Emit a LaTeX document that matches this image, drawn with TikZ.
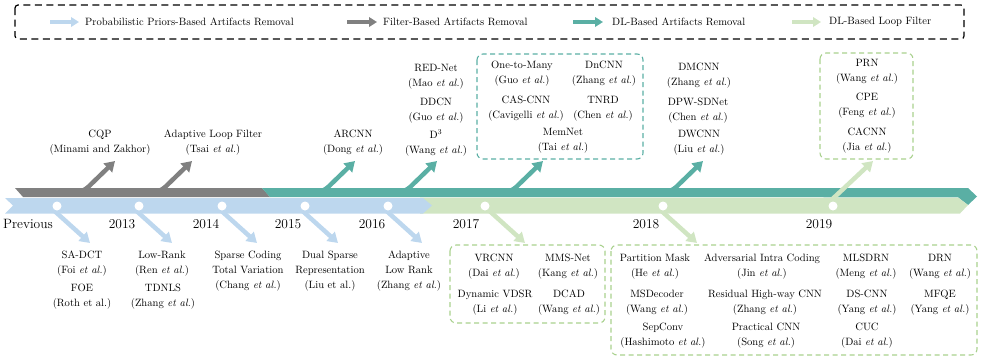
\documentclass[tikz,border=0pt]{standalone}
\usetikzlibrary{arrows.meta,calc}
\definecolor{priorblue}{RGB}{189,215,238}
\definecolor{filtergrey}{RGB}{128,128,128}
\definecolor{dlteal}{RGB}{90,175,164}
\definecolor{loopgreen}{RGB}{208,229,194}
\definecolor{loopdash}{RGB}{169,209,142}
\newcommand{\etal}{\textit{et al.}}

\begin{document}
\begin{tikzpicture}[x=1pt, y=-1pt,
  item/.style={align=center, inner sep=0pt, font=\fontsize{10.6}{15}\selectfont},
  year/.style={inner sep=0pt, font=\fontsize{13.5}{16}\selectfont},
  legtext/.style={anchor=west, inner sep=0pt, font=\fontsize{10.6}{15}\selectfont},
  legarrow/.style={line width=4.5pt, -{Triangle[length=8pt,width=9.5pt]}},
  twig/.style={line width=4.5pt, rounded corners=7pt, -{Triangle[length=10pt,width=12pt]}},
  dot/.style={circle, fill=white, minimum size=9pt, inner sep=0pt},
  groupbox/.style={draw, line width=1.1pt, dash pattern=on 5pt off 3.5pt, rounded corners=6pt}
]
\useasboundingbox (0,0) rectangle (981,360);

% legend
\draw[line width=1.2pt, dash pattern=on 7pt off 4.5pt, rounded corners=3pt] (15,5) rectangle (964,39);
\node[legtext] (lgprior) at (85,22) {Probabilistic Priors-Based Artifacts Removal};
\node[legtext] (lgfilter) at (383,22) {Filter-Based Artifacts Removal};
\node[legtext] (lgdl) at (612,22) {DL-Based Artifacts Removal};
\node[legtext] (lgloop) at (829,22) {DL-Based Loop Filter};
\draw[legarrow, priorblue] ([xshift=-35pt]lgprior.west) -- ([xshift=-6pt]lgprior.west);
\draw[legarrow, filtergrey] ([xshift=-36pt]lgfilter.west) -- ([xshift=-6pt]lgfilter.west);
\draw[legarrow, dlteal] ([xshift=-39pt]lgdl.west) -- ([xshift=-9pt]lgdl.west);
\draw[legarrow, loopgreen] ([xshift=-37pt]lgloop.west) -- ([xshift=-8pt]lgloop.west);

% bands
\fill[filtergrey] (15,188) -- (262,188) -- (270,197) -- (23,197) -- cycle;
\fill[dlteal] (262,188) -- (968,188) -- (977,196.5) -- (968,205) -- (958,197.3) -- (270,197) -- cycle;
\fill[loopgreen] (420,197.5) -- (958,197.5) -- (968,205) -- (960,213.5) -- (420,213.5) -- cycle;
\fill[priorblue] (5,198) -- (423,198) -- (432,205.5) -- (423,213.5) -- (5,213.5) -- (13,205.5) -- cycle;

% branches
\foreach \tx/\col [count=\i] in {115/filtergrey,192/filtergrey,355/dlteal,437/dlteal,543/dlteal,703/dlteal}{
  \coordinate (ut\i) at (\tx,161);
  \draw[twig,\col] ($(ut\i)+(-44,31)$) -- ($(ut\i)+(-32,31)$) -- (ut\i);
}
\coordinate (ut7) at (873,161);
\draw[twig,loopgreen] ($(ut7)+(-62,45)$) -- ($(ut7)+(-48,45)$) -- (ut7);
\foreach \tx/\col [count=\i] in {90/priorblue,172/priorblue,257/priorblue,338/priorblue,422/priorblue,525/loopgreen,697/loopgreen}{
  \coordinate (dt\i) at (\tx,243);
  \draw[twig,\col] ($(dt\i)+(-53,-37)$) -- ($(dt\i)+(-41,-37)$) -- (dt\i);
}

% year marks
\foreach \px [count=\i from 0] in {57,139,222,305,388,485,663,833}
  \node[dot] (p\i) at (\px,206) {};
\node[year] (yprev) at (28,224) {Previous};
\node[year] (y2013) at (122,224) {2013};
\node[year] (y2014) at (206,224) {2014};
\node[year] (y2015) at (288,224) {2015};
\node[year] (y2016) at (372,224) {2016};
\node[year] (y2017) at (466,224) {2017};
\node[year] (y2018) at (646,224) {2018};
\node[year] (y2019) at (819,224) {2019};

% above the timeline
\node[item] (cqp) at (100,143) {CQP\\(Minami and Zakhor)};
\node[item] (alf) at (213,143) {Adaptive Loop Filter\\(Tsai \etal)};
\node[item] (arcnn) at (353,143) {ARCNN\\(Dong \etal)};
\node[item] (rednet) at (436,76.5) {RED-Net\\(Mao \etal)};
\node[item] (ddcn) at (436,110.5) {DDCN\\(Guo \etal)};
\node[item] (dthree) at (436,143) {D\textsuperscript{3}\\(Wang \etal)};
\draw[groupbox, dlteal] (477,54) rectangle (643,159);
\node[item] (onetomany) at (522,73.5) {One-to-Many\\(Guo \etal)};
\node[item] (dncnn) at (604,73.5) {DnCNN\\(Zhang \etal)};
\node[item] (cascnn) at (526,109) {CAS-CNN\\(Cavigelli \etal)};
\node[item] (tnrd) at (603,109) {TNRD\\(Chen \etal)};
\node[item] (memnet) at (563,141) {MemNet\\(Tai \etal)};
\node[item] (dmcnn) at (699,76) {DMCNN\\(Zhang \etal)};
\node[item] (dpwsdnet) at (698,110.5) {DPW-SDNet\\(Chen \etal)};
\node[item] (dwcnn) at (699,142.5) {DWCNN\\(Liu \etal)};
\draw[groupbox, loopdash] (820,53) rectangle (913,159);
\node[item] (prn) at (867,72) {PRN\\(Wang \etal)};
\node[item] (cpe) at (867,105.5) {CPE\\(Feng \etal)};
\node[item] (cacnn) at (867,141) {CACNN\\(Jia \etal)};

% below the timeline
\node[item] (sadct) at (82,263.5) {SA-DCT\\(Foi \etal)};
\node[item] (foe) at (82,297) {FOE\\(Roth et al.)};
\node[item] (lowrank) at (162,263.5) {Low-Rank\\(Ren \etal)};
\node[item] (tdnls) at (163,297) {TDNLS\\(Zhang \etal)};
\node[item] (sparse) at (248,271) {Sparse Coding\\Total Variation\\(Chang \etal)};
\node[item] (dual) at (330,271) {Dual Sparse\\Representation\\(Liu et al.)};
\node[item] (adaptive) at (409,271) {Adaptive\\Low Rank\\(Zhang \etal)};
\draw[groupbox, loopdash] (450,245) rectangle (605,323);
\node[item] (vrcnn) at (494,266.5) {VRCNN\\(Dai \etal)};
\node[item] (mmsnet) at (568,266.5) {MMS-Net\\(Kang \etal)};
\node[item] (dvdsr) at (495,303) {Dynamic VDSR\\(Li \etal)};
\node[item] (dcad) at (569,303) {DCAD\\(Wang \etal)};
\draw[groupbox, loopdash] (611,245) rectangle (977,355);
\node[item] (partition) at (655,266.5) {Partition Mask\\(He \etal)};
\node[item] (msdecoder) at (657,303) {MSDecoder\\(Wang \etal)};
\node[item] (sepconv) at (663,336) {SepConv\\(Hashimoto \etal)};
\node[item] (adversarial) at (762,266.5) {Adversarial Intra Coding\\(Jin \etal)};
\node[item] (highway) at (765,303) {Residual High-way CNN\\(Zhang \etal)};
\node[item] (practical) at (766,336) {Practical CNN\\(Song \etal)};
\node[item] (mlsdrn) at (866,266.5) {MLSDRN\\(Meng \etal)};
\node[item] (dscnn) at (867,303) {DS-CNN\\(Yang \etal)};
\node[item] (cuc) at (867,336) {CUC\\(Dai \etal)};
\node[item] (drn) at (940,266.5) {DRN\\(Wang \etal)};
\node[item] (mfqe) at (940,303) {MFQE\\(Yang \etal)};
\end{tikzpicture}
\end{document}
